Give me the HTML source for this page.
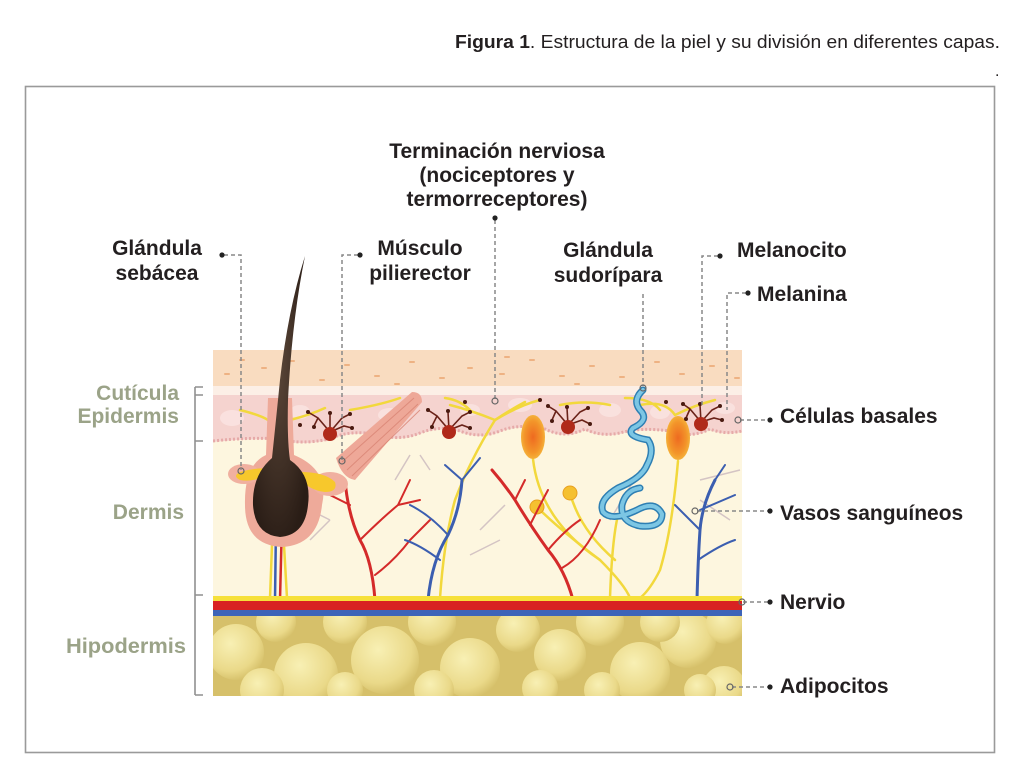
<!DOCTYPE html>
<html><head><meta charset="utf-8"><style>
html,body{margin:0;padding:0;background:#fff;}
svg{display:block;}
</style></head><body>
<svg width="1024" height="780" viewBox="0 0 1024 780" xmlns="http://www.w3.org/2000/svg">
<defs>
<radialGradient id="fat" cx="0.4" cy="0.35" r="0.7">
<stop offset="0" stop-color="#f8f0b4"/><stop offset="0.7" stop-color="#ead989"/><stop offset="1" stop-color="#d3bd66"/>
</radialGradient>
<radialGradient id="gl" cx="0.5" cy="0.5" r="0.6">
<stop offset="0" stop-color="#ee6a20"/><stop offset="0.6" stop-color="#f3952a"/><stop offset="1" stop-color="#f6c445"/>
</radialGradient>
<radialGradient id="bulb" cx="0.45" cy="0.4" r="0.65">
<stop offset="0" stop-color="#5a4638"/><stop offset="1" stop-color="#2a1d16"/>
</radialGradient>
<clipPath id="hypo"><rect x="213" y="612" width="529" height="84"/></clipPath>
<clipPath id="skin"><rect x="213" y="350" width="529" height="346"/></clipPath>
</defs>

<!-- caption -->
<text x="1000" y="48" text-anchor="end" font-family="Liberation Sans, sans-serif" font-size="18" fill="#231f20" textLength="545" lengthAdjust="spacingAndGlyphs"><tspan font-weight="bold">Figura 1</tspan>. Estructura de la piel y su división en diferentes capas.</text>
<text x="995" y="76" font-family="Liberation Sans, sans-serif" font-size="16" fill="#231f20">.</text>

<!-- frame -->
<rect x="25.5" y="86.5" width="969" height="666" fill="none" stroke="#9a9a9a" stroke-width="1.6"/>

<g clip-path="url(#skin)">
<!-- dermis -->
<rect x="213" y="350" width="529" height="260" fill="#fdf6df"/>
<!-- stratum corneum -->
<rect x="213" y="350" width="529" height="38" fill="#f9dcc0"/>
<rect x="213" y="386" width="529" height="10" fill="#fcefe6"/>
<!-- epidermis -->
<path d="M213 395 L742 395 L742 432 Q725 436 710 430 Q690 440 670 432 Q640 428 620 434 Q600 438 585 430 Q565 440 545 430 Q520 424 500 432 Q480 440 460 432 Q440 426 420 434 Q400 442 380 436 Q350 430 330 440 Q300 446 280 440 Q250 438 213 442 Z" fill="#f5d3cf"/>
<path d="M213 441 Q250 437 280 439 Q300 445 330 439 Q350 429 380 435 Q400 441 420 433 Q440 425 460 431 Q480 439 500 431 Q520 423 545 429 Q565 439 585 429 Q600 437 620 433 Q640 427 670 431 Q690 439 710 429 Q725 435 742 431" fill="none" stroke="#e6aaa8" stroke-width="3" stroke-dasharray="2 2"/>
<g fill="#fbe5e2" opacity="0.8">
<ellipse cx="232" cy="418" rx="12" ry="8"/><ellipse cx="300" cy="412" rx="10" ry="7"/><ellipse cx="390" cy="415" rx="12" ry="7"/><ellipse cx="470" cy="410" rx="10" ry="6"/><ellipse cx="520" cy="405" rx="12" ry="7"/><ellipse cx="610" cy="410" rx="11" ry="7"/><ellipse cx="660" cy="412" rx="10" ry="7"/><ellipse cx="725" cy="408" rx="10" ry="6"/>
</g>
<!-- corneum flecks -->
<g stroke="#eeb283" stroke-width="2" stroke-linecap="round">
<path d="M225 374h4M262 368h4M290 361h4M320 380h4M345 365h4M375 376h4M410 362h4M440 378h4M468 368h4M500 374h4M530 360h4M560 376h4M590 366h4M620 377h4M655 362h4M680 374h4M710 366h4M735 378h4M240 360h4M395 384h4M575 384h4M505 357h4"/>
</g>

<!-- hypodermis -->
<rect x="213" y="612" width="529" height="84" fill="#d6c06a"/>
<g clip-path="url(#hypo)" fill="url(#fat)">
<circle cx="236" cy="652" r="28"/><circle cx="276" cy="622" r="20"/><circle cx="306" cy="675" r="32"/><circle cx="345" cy="622" r="22"/><circle cx="385" cy="660" r="34"/><circle cx="432" cy="622" r="24"/><circle cx="470" cy="668" r="30"/><circle cx="518" cy="630" r="22"/><circle cx="560" cy="655" r="26"/><circle cx="600" cy="622" r="24"/><circle cx="640" cy="672" r="30"/><circle cx="688" cy="640" r="28"/><circle cx="724" cy="688" r="22"/><circle cx="540" cy="688" r="18"/><circle cx="262" cy="690" r="22"/><circle cx="602" cy="690" r="18"/><circle cx="660" cy="622" r="20"/><circle cx="726" cy="624" r="20"/><circle cx="434" cy="690" r="20"/><circle cx="700" cy="690" r="16"/><circle cx="345" cy="690" r="18"/>
</g>

<!-- faint vessels -->
<g fill="none" stroke="#c9b8bd" stroke-width="1.5" opacity="0.8">
<path d="M330 520 L300 505 M330 520 L310 540 M395 480 L410 455 M610 520 L640 470 M700 480 L740 470 M700 500 L730 520 M480 530 L505 505 M470 555 L500 540 M430 470 L420 455"/>
</g>

<!-- yellow nerves -->
<g fill="none" stroke="#f2d83c" stroke-width="2.5" stroke-linecap="round">
<path d="M440 598 Q444 540 455 500 Q470 460 495 420 Q520 405 540 400"/>
<path d="M495 420 Q470 410 450 405 M495 420 Q510 410 525 402 M470 410 Q460 400 445 398"/>
<path d="M533 459 Q540 520 600 560 Q625 585 630 598"/>
<path d="M537 507 Q560 530 600 560"/>
<path d="M570 493 Q580 530 615 560"/>
<path d="M678 461 Q672 530 660 570 Q650 590 640 598"/>
<path d="M675 415 Q665 400 640 405 M675 415 Q695 405 715 400 M660 410 Q650 398 625 398"/>
<path d="M610 598 Q612 540 618 515"/>
<path d="M270 598 L272 545 M287 598 L284 545"/>
<path d="M240 410 Q260 415 268 420 M290 420 Q310 415 325 408 M350 410 Q380 405 400 398 M560 405 Q585 400 610 405"/>
</g>
<!-- small yellow drops -->
<circle cx="537" cy="507" r="7" fill="#f5c030" stroke="#e8a020" stroke-width="1"/>
<circle cx="570" cy="493" r="7" fill="#f5c030" stroke="#e8a020" stroke-width="1"/>

<!-- red vessel trees -->
<g fill="none" stroke="#d42a2a" stroke-linecap="round">
<path d="M375 600 Q372 560 360 540 Q348 515 345 480" stroke-width="3"/>
<path d="M360 540 Q380 520 398 505 M398 505 L410 480 M398 505 L420 500 M350 505 L330 495" stroke-width="2"/>
<path d="M375 575 Q395 560 410 540 L430 520" stroke-width="2"/>
<path d="M573 600 Q565 570 548 550 Q530 525 515 500 Q505 485 492 470" stroke-width="3"/>
<path d="M548 550 Q565 530 580 520 M530 525 Q540 505 548 490 M515 500 L525 480 M562 568 Q585 555 600 520" stroke-width="2"/>
<path d="M280 600 L282 520" stroke-width="2.5"/>
</g>
<!-- blue vessel trees -->
<g fill="none" stroke="#3b5eb0" stroke-linecap="round">
<path d="M428 600 Q432 560 448 535 Q460 510 462 480" stroke-width="3"/>
<path d="M448 535 Q430 515 410 505 M462 480 L480 458 M462 480 L445 465 M440 560 Q420 545 405 540" stroke-width="2"/>
<path d="M697 600 Q698 560 700 530 Q702 505 715 480" stroke-width="3"/>
<path d="M700 530 Q685 515 675 505 M715 480 L725 465 M700 510 L735 495 M698 560 Q720 545 735 540" stroke-width="2"/>
<path d="M275 600 L276 525" stroke-width="2.5"/>
</g>

<!-- bottom nerve / vessel band -->
<rect x="213" y="596" width="529" height="5" fill="#f6e03a"/>
<rect x="213" y="601" width="529" height="9" fill="#d82222"/>
<rect x="213" y="610" width="529" height="6" fill="#3d64b8"/>

<!-- hair follicle sheath -->
<path d="M268 398 L292 398 L294 455 Q330 470 322 505 Q318 545 282 547 Q245 545 245 505 Q244 465 266 455 Z" fill="#eeaa9a"/>
<!-- sebaceous glands -->
<ellipse cx="244" cy="474" rx="16" ry="10" fill="#f0b0a0"/>
<ellipse cx="330" cy="484" rx="18" ry="12" fill="#f0b0a0"/>
<path d="M240 472 Q260 466 278 470 L300 472 Q325 472 335 482 Q338 492 325 492 Q308 490 300 478 L260 478 Q250 482 240 480 Q232 476 240 472 Z" fill="#f7c82c"/>

<!-- arrector muscle -->
<path d="M336 458 L412 392 Q422 392 422 402 L355 480 Q342 478 336 458 Z" fill="#eea898"/>
<g stroke="#d98474" stroke-width="1" opacity="0.8">
<path d="M342 462 L414 398 M347 470 L418 404 M352 476 L420 410"/>
</g>

<!-- sweat gland ovals -->
<ellipse cx="533" cy="437" rx="12" ry="22" fill="url(#gl)"/>
<ellipse cx="678" cy="438" rx="12" ry="22" fill="url(#gl)"/>

<!-- sweat duct -->
<path d="M643 390 Q632 400 640 410 Q650 420 633 428 Q625 436 648 440 Q655 450 647 465 Q642 478 618 488 Q598 500 603 512 Q612 522 637 510 Q655 500 662 514 Q662 528 640 526 Q620 522 622 505 Q626 490 640 488" fill="none" stroke="#2e7fb3" stroke-width="7" stroke-linecap="round"/>
<path d="M643 390 Q632 400 640 410 Q650 420 633 428 Q625 436 648 440 Q655 450 647 465 Q642 478 618 488 Q598 500 603 512 Q612 522 637 510 Q655 500 662 514 Q662 528 640 526 Q620 522 622 505 Q626 490 640 488" fill="none" stroke="#7cc6e4" stroke-width="4" stroke-linecap="round"/>

<!-- melanocytes -->
<g stroke="#6a2218" stroke-width="1.6" fill="none">
<path d="M330 432 L318 418 L308 412 M330 432 L330 414 M330 432 L342 418 L350 414 M330 432 L344 426 L352 428 M318 418 L314 426"/>
<path d="M449 430 L437 416 L428 410 M449 430 L448 412 M449 430 L462 416 L470 412 M449 430 L462 425 L470 428 M437 416 L432 426"/>
<path d="M568 425 L556 411 L548 406 M568 425 L567 408 M568 425 L580 412 L588 408 M568 425 L582 420 L590 424 M556 411 L552 420"/>
<path d="M701 422 L690 409 L683 404 M701 422 L700 405 M701 422 L712 410 L720 406 M701 422 L714 418 L722 420 M690 409 L686 418"/>
</g>
<g fill="#4a1a10">
<circle cx="308" cy="412" r="2"/><circle cx="330" cy="413" r="2"/><circle cx="350" cy="414" r="2"/><circle cx="352" cy="428" r="2"/><circle cx="314" cy="427" r="2"/><circle cx="300" cy="425" r="2"/>
<circle cx="428" cy="410" r="2"/><circle cx="448" cy="411" r="2"/><circle cx="470" cy="412" r="2"/><circle cx="470" cy="428" r="2"/><circle cx="432" cy="427" r="2"/><circle cx="465" cy="402" r="2"/>
<circle cx="548" cy="406" r="2"/><circle cx="567" cy="407" r="2"/><circle cx="588" cy="408" r="2"/><circle cx="590" cy="424" r="2"/><circle cx="552" cy="421" r="2"/><circle cx="540" cy="400" r="2"/>
<circle cx="683" cy="404" r="2"/><circle cx="700" cy="404" r="2"/><circle cx="720" cy="406" r="2"/><circle cx="722" cy="420" r="2"/><circle cx="686" cy="419" r="2"/><circle cx="666" cy="402" r="2"/>
</g>
<g fill="#b02a1a">
<circle cx="330" cy="434" r="7"/><circle cx="449" cy="432" r="7"/><circle cx="568" cy="427" r="7"/><circle cx="701" cy="424" r="7"/>
</g>
</g>

<!-- hair (extends above skin) -->
<path d="M305 256 Q292 320 288 400 Q287 440 290 460 Q312 475 308 505 Q305 535 280 537 Q255 535 253 505 Q252 475 272 458 Q276 420 280 380 Q288 310 305 256 Z" fill="url(#bulb)"/>

<!-- left bracket -->
<g stroke="#8f8f8f" stroke-width="1.6" fill="none">
<path d="M195 387 V695"/>
<path d="M195 387 H203 M195 395 H203 M195 441 H203 M195 595 H203 M195 695 H203"/>
</g>
<g font-family="Liberation Sans, sans-serif" font-weight="bold" font-size="21" fill="#9ba388" text-anchor="end">
<text x="179" y="400">Cutícula</text>
<text x="179" y="423">Epidermis</text>
<text x="184" y="519">Dermis</text>
<text x="186" y="653" textLength="120" lengthAdjust="spacingAndGlyphs">Hipodermis</text>
</g>

<!-- connectors -->
<g stroke="#888" stroke-width="1.5" fill="none" stroke-dasharray="4 3">
<path d="M224 255 H241 V470"/>
<path d="M358 255 H342 V460"/>
<path d="M495 220 V400"/>
<path d="M643 294 V386"/>
<path d="M718 256 H702 V406"/>
<path d="M746 293 H727 V410"/>
<path d="M740 420 H768"/>
<path d="M697 511 H768"/>
<path d="M743 602 H768"/>
<path d="M732 687 H768"/>
</g>
<g fill="#222">
<circle cx="222" cy="255" r="2.6"/><circle cx="360" cy="255" r="2.6"/><circle cx="495" cy="218" r="2.6"/>
<circle cx="720" cy="256" r="2.6"/><circle cx="748" cy="293" r="2.6"/>
<circle cx="770" cy="420" r="2.6"/><circle cx="770" cy="511" r="2.6"/><circle cx="770" cy="602" r="2.6"/><circle cx="770" cy="687" r="2.6"/>
</g>
<g fill="none" stroke="#666" stroke-width="1.2">
<circle cx="241" cy="471" r="3"/><circle cx="342" cy="461" r="3"/><circle cx="495" cy="401" r="3"/><circle cx="643" cy="388" r="3"/>
<circle cx="738" cy="420" r="3"/><circle cx="695" cy="511" r="3"/><circle cx="742" cy="602" r="3"/><circle cx="730" cy="687" r="3"/>
</g>

<!-- labels -->
<g font-family="Liberation Sans, sans-serif" font-weight="bold" font-size="21" fill="#231f20">
<text x="157" y="255" text-anchor="middle">Glándula</text>
<text x="157" y="280" text-anchor="middle">sebácea</text>
<text x="420" y="255" text-anchor="middle">Músculo</text>
<text x="420" y="280" text-anchor="middle">pilierector</text>
<text x="497" y="158" text-anchor="middle">Terminación nerviosa</text>
<text x="497" y="182" text-anchor="middle">(nociceptores y</text>
<text x="497" y="206" text-anchor="middle">termorreceptores)</text>
<text x="608" y="257" text-anchor="middle">Glándula</text>
<text x="608" y="282" text-anchor="middle">sudorípara</text>
<text x="737" y="257">Melanocito</text>
<text x="757" y="301">Melanina</text>
<text x="780" y="423">Células basales</text>
<text x="780" y="520">Vasos sanguíneos</text>
<text x="780" y="609">Nervio</text>
<text x="780" y="693">Adipocitos</text>
</g>
</svg>
</body></html>
